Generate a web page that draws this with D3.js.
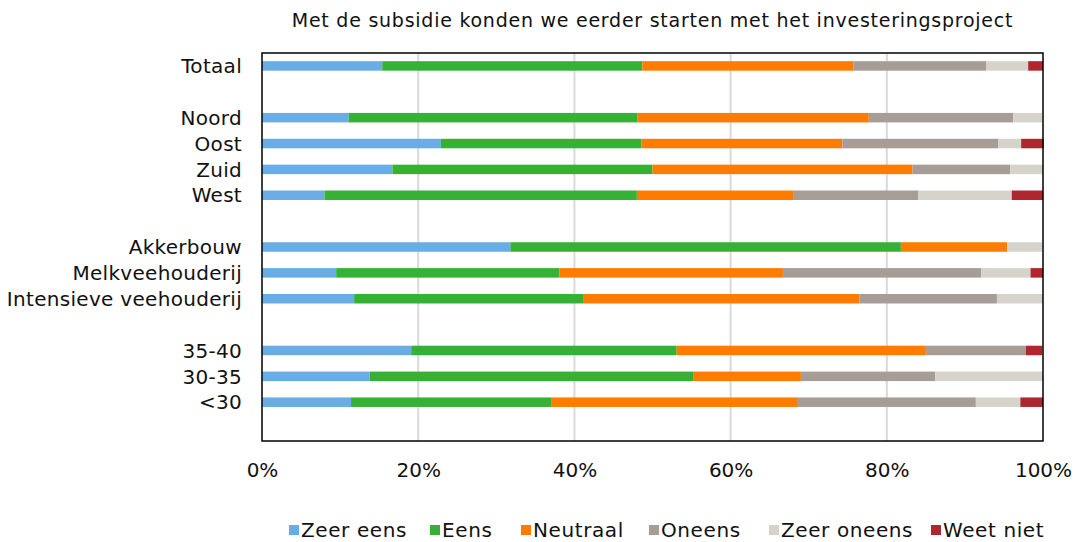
<!DOCTYPE html>
<html>
<head>
<meta charset="utf-8">
<script src="https://cdn.jsdelivr.net/npm/d3@7"></script>
<style>
  html, body { margin: 0; padding: 0; background: #fff; }
  svg { display: block; font-family: "DejaVu Sans", Verdana, sans-serif; }
</style>
</head>
<body>
<svg id="chart" width="1075" height="542"></svg>
<script>
// Answer categories (stack order, left to right)
const answers = ["Zeer eens", "Eens", "Neutraal", "Oneens", "Zeer oneens", "Weet niet"];
const answerColors = ["#6aade4", "#35b235", "#ff7c00", "#a69d96", "#d6d3cb", "#b0262f"];

// Row labels; empty strings are spacer rows between groups
const rows = ["Totaal", "", "Noord", "Oost", "Zuid", "West", "",
  "Akkerbouw", "Melkveehouderij", "Intensieve veehouderij", "",
  "35-40", "30-35", "<30", ""];

// Shares per answer (percent), one value per row
const zeerEens   = [15.4, 0, 11.1, 22.9, 16.7,  8.0, 0, 31.8,  9.5, 11.8, 0, 19.1, 13.8, 11.4, 0];
const eens       = [33.3, 0, 37.0, 25.7, 33.3, 40.0, 0, 50.0, 28.6, 29.4, 0, 34.0, 41.4, 25.7, 0];
const neutraal   = [27.0, 0, 29.6, 25.7, 33.3, 20.0, 0, 13.6, 28.6, 35.3, 0, 31.9, 13.8, 31.4, 0];
const oneens     = [17.0, 0, 18.5, 20.0, 12.5, 16.0, 0,  0.0, 25.4, 17.6, 0, 12.8, 17.2, 22.9, 0];
const zeerOneens = [ 5.4, 0,  3.7,  2.9,  4.2, 12.0, 0,  4.5,  6.3,  5.9, 0,  0.0, 13.8,  5.7, 0];
const weetNiet   = [ 1.9, 0,  0.0,  2.9,  0.0,  4.0, 0,  0.0,  1.6,  0.0, 0,  2.1,  0.0,  2.9, 0];

const xTicks = [0, 20, 40, 60, 80, 100];
const title = "Met de subsidie konden we eerder starten met het investeringsproject";

const seriesValues = [zeerEens, eens, neutraal, oneens, zeerOneens, weetNiet];
const rowKeys = rows.map((r, i) => r === "" ? "_gap" + i : r);
const table = rowKeys.map((key, i) => {
  const rec = { key };
  answers.forEach((a, j) => { rec[a] = seriesValues[j][i]; });
  return rec;
});

const svg = d3.select("#chart");
const margin = { left: 262, right: 1043, top: 53, bottom: 441 };

const x = d3.scaleLinear().domain([0, 100]).range([margin.left, margin.right]);
const y = d3.scaleBand().domain(rowKeys).range([margin.top, margin.bottom]).padding(0);
const color = d3.scaleOrdinal().domain(answers).range(answerColors);
const barH = 9.5;

// Title
svg.append("text")
  .attr("x", (margin.left + margin.right) / 2)
  .attr("y", 27)
  .attr("text-anchor", "middle")
  .attr("font-size", 19)
  .attr("letter-spacing", 0.75)
  .attr("fill", "#111")
  .text(title);

// Vertical gridlines
svg.append("g")
  .selectAll("line")
  .data(xTicks.filter(t => t > 0 && t < 100))
  .join("line")
  .attr("x1", d => x(d)).attr("x2", d => x(d))
  .attr("y1", margin.top).attr("y2", margin.bottom)
  .attr("stroke", "#d9d9d9")
  .attr("stroke-width", 2);

// Stacked bars
const stack = d3.stack().keys(answers);
const layers = stack(table);

svg.append("g")
  .selectAll("g")
  .data(layers)
  .join("g")
  .attr("fill", d => color(d.key))
  .selectAll("rect")
  .data(d => d)
  .join("rect")
  .attr("x", d => x(d[0]))
  .attr("width", d => Math.max(0, x(d[1]) - x(d[0])))
  .attr("y", d => y(d.data.key) + y.bandwidth() / 2 - barH / 2)
  .attr("height", barH);

// Plot frame
svg.append("rect")
  .attr("x", margin.left).attr("y", margin.top)
  .attr("width", margin.right - margin.left)
  .attr("height", margin.bottom - margin.top)
  .attr("fill", "none")
  .attr("stroke", "#000")
  .attr("stroke-width", 1.5);

// Category axis
const yAxis = d3.axisLeft(y)
  .tickSize(0)
  .tickPadding(20)
  .tickFormat(k => k.startsWith("_gap") ? "" : k);
const gy = svg.append("g")
  .attr("transform", `translate(${margin.left},0)`)
  .call(yAxis);
gy.select(".domain").remove();
gy.selectAll("text")
  .attr("font-size", 20)
  .attr("letter-spacing", 0.3)
  .attr("font-family", "DejaVu Sans, Verdana, sans-serif")
  .attr("fill", "#111")
  .attr("dy", "0.36em");

// Percentage axis
const xAxis = d3.axisBottom(x)
  .tickValues(xTicks)
  .tickSize(0)
  .tickPadding(22)
  .tickFormat(d => d + "%");
const gx = svg.append("g")
  .attr("transform", `translate(0,${margin.bottom})`)
  .call(xAxis);
gx.select(".domain").remove();
gx.selectAll("text")
  .attr("font-size", 20)
  .attr("font-family", "DejaVu Sans, Verdana, sans-serif")
  .attr("fill", "#111");

// Legend
const legendX = [289, 430, 521, 649, 769, 931];
const legend = svg.append("g")
  .selectAll("g")
  .data(answers)
  .join("g")
  .attr("transform", (d, i) => `translate(${legendX[i]},530)`);
legend.append("rect")
  .attr("x", 0).attr("y", -5)
  .attr("width", 10).attr("height", 10)
  .attr("fill", d => color(d));
legend.append("text")
  .attr("x", 12).attr("y", 7)
  .attr("font-size", 20)
  .attr("letter-spacing", 0.6)
  .attr("fill", "#111")
  .text(d => d);
</script>
</body>
</html>
